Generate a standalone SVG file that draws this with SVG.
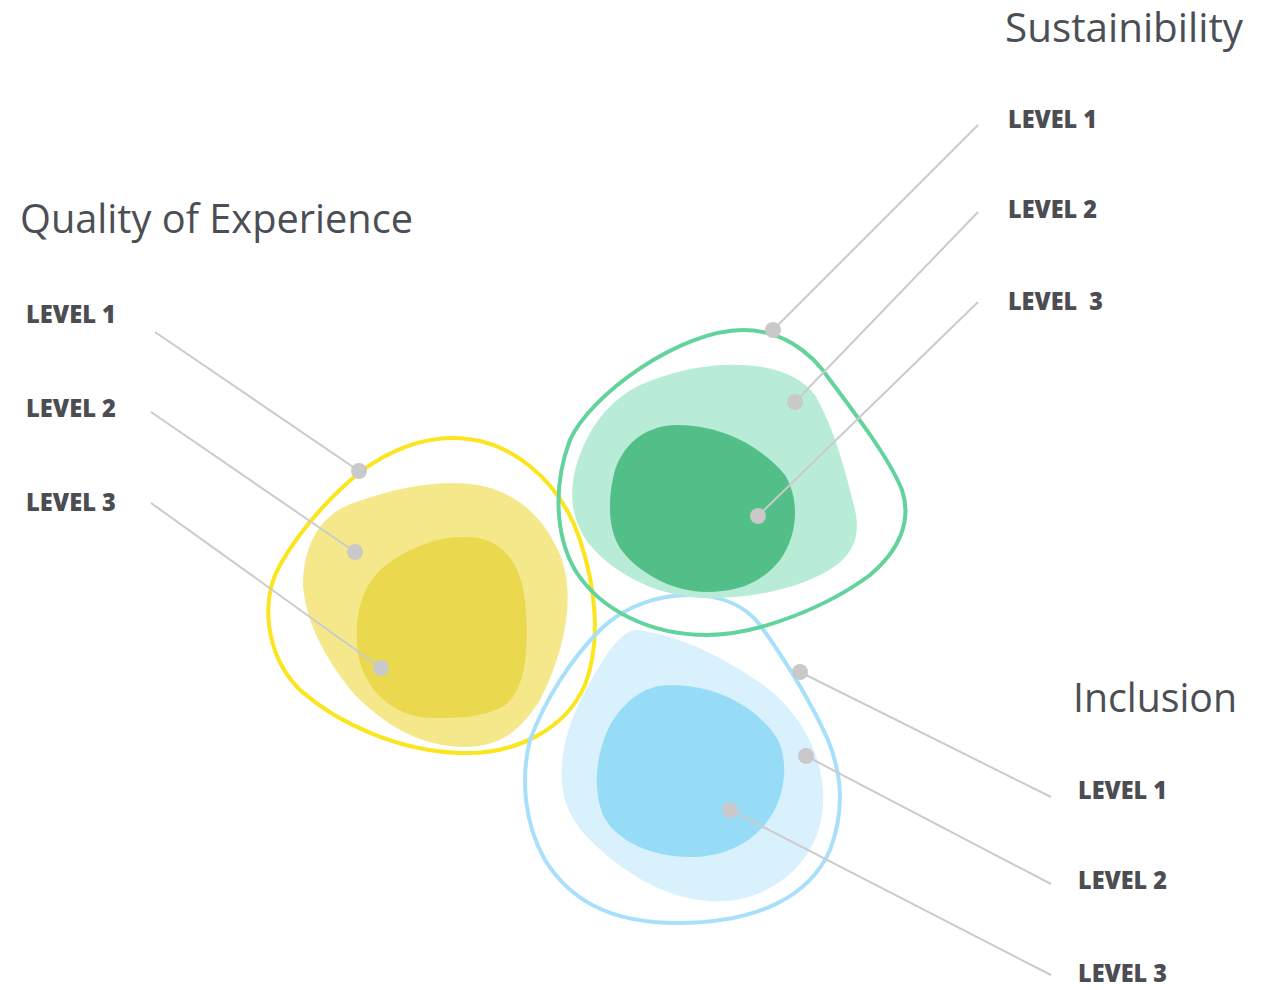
<svg xmlns="http://www.w3.org/2000/svg" width="1269" height="990" viewBox="0 0 1269 990">
<style>
.title{font-family:"Open Sans","Noto Sans",sans-serif;font-size:41px;fill:#4b4f55;}
.lvl{font-family:"Open Sans","Noto Sans",sans-serif;font-size:24px;font-weight:800;fill:#4b4d52;}
.conn line{stroke:#cbcbcb;stroke-width:2;}
.conn circle{fill:#c9c9c9;}
</style>
<rect width="1269" height="990" fill="#ffffff"/>
<g id="quality">
<path d="M 353,503 C 390,490 420,483 455,483 C 510,483 545,515 562,560 C 575,600 565,650 540,700 C 515,740 490,747 465,747 C 420,747 385,725 355,695 C 325,660 305,620 303,585 C 303,545 320,515 353,503 Z" fill="#f4e88a"/>
<path d="M 463,537 C 500,535 520,560 525,600 C 530,650 525,690 505,705 C 485,718 455,718 433,718 C 395,718 360,690 357,645 C 354,600 370,575 393,560 C 415,545 440,537 463,537 Z" fill="#ead94f"/>
<path d="M 453,438 C 510,438 560,480 580,540 C 595,585 602,640 585,685 C 565,730 515,755 460,753 C 400,751 340,725 300,690 C 265,655 260,600 280,565 C 300,530 330,497 360,472 C 390,450 420,438 453,438 Z" fill="none" stroke="#fbe51c" stroke-width="4"/>
<text class="title" x="20" y="233" textLength="393" lengthAdjust="spacingAndGlyphs">Quality of Experience</text>
<text class="lvl" x="26" y="323" textLength="90" lengthAdjust="spacingAndGlyphs">LEVEL 1</text>
<text class="lvl" x="26" y="417" textLength="90" lengthAdjust="spacingAndGlyphs">LEVEL 2</text>
<text class="lvl" x="26" y="511" textLength="90" lengthAdjust="spacingAndGlyphs">LEVEL 3</text>
</g>
<g id="inclusion">
<path d="M 637,630 C 680,635 730,660 770,690 C 800,715 820,750 823,790 C 826,840 800,875 760,893 C 735,903 717,902 700,900 C 660,895 620,870 590,840 C 565,815 560,790 562,765 C 565,720 590,680 610,650 C 620,637 628,630 637,630 Z" fill="#d9f0fd"/>
<path d="M 670,685 C 720,685 760,710 778,740 C 790,765 785,805 760,830 C 740,850 715,857 690,857 C 650,857 615,840 603,815 C 593,790 595,755 610,725 C 625,700 645,685 670,685 Z" fill="#97dcf6"/>
<path d="M 690,595 C 720,595 745,605 760,625 C 785,660 810,700 828,740 C 842,775 845,810 830,850 C 810,895 760,923 677,923 C 610,923 570,900 545,860 C 525,825 520,780 530,740 C 545,700 570,660 600,630 C 625,605 660,595 690,595 Z" fill="none" stroke="#a8e0fb" stroke-width="4"/>
<text class="title" x="1073" y="712" textLength="164" lengthAdjust="spacingAndGlyphs">Inclusion</text>
<text class="lvl" x="1078" y="799" textLength="89" lengthAdjust="spacingAndGlyphs">LEVEL 1</text>
<text class="lvl" x="1078" y="889" textLength="89" lengthAdjust="spacingAndGlyphs">LEVEL 2</text>
<text class="lvl" x="1078" y="982" textLength="89" lengthAdjust="spacingAndGlyphs">LEVEL 3</text>
</g>
<g id="sustainibility">
<path d="M 723,365 C 770,363 800,375 815,395 C 835,430 845,470 855,510 C 862,540 850,560 820,575 C 790,590 750,598 710,598 C 660,598 615,575 590,545 C 570,520 568,490 578,460 C 590,425 610,400 640,385 C 670,372 700,366 723,365 Z" fill="#b8ecd7"/>
<path d="M 677,425 C 720,425 760,445 785,475 C 800,500 798,535 780,560 C 760,585 735,592 707,592 C 670,592 635,570 620,548 C 607,528 608,495 615,470 C 625,440 650,425 677,425 Z" fill="#52be88"/>
<path d="M 743,330 C 780,330 810,350 830,380 C 860,420 890,460 902,490 C 912,520 900,550 870,575 C 830,605 760,635 707,635 C 650,635 600,610 575,570 C 555,535 553,485 570,440 C 590,395 680,330 743,330 Z" fill="none" stroke="#63d39e" stroke-width="4"/>
<text class="title" x="1005" y="42" textLength="238" lengthAdjust="spacingAndGlyphs">Sustainibility</text>
<text class="lvl" x="1008" y="128" textLength="89" lengthAdjust="spacingAndGlyphs">LEVEL 1</text>
<text class="lvl" x="1008" y="218" textLength="89" lengthAdjust="spacingAndGlyphs">LEVEL 2</text>
<text class="lvl" x="1008" y="310" textLength="95" lengthAdjust="spacingAndGlyphs" xml:space="preserve">LEVEL  3</text>
</g>
<g id="connectors" class="conn">
<line x1="155" y1="332" x2="359" y2="471"/><circle cx="359" cy="471" r="8"/>
<line x1="151" y1="412" x2="355" y2="552"/><circle cx="355" cy="552" r="8"/>
<line x1="151" y1="503" x2="381" y2="668"/><circle cx="381" cy="668" r="8"/>
<line x1="978" y1="125" x2="773" y2="330"/><circle cx="773" cy="330" r="8"/>
<line x1="978" y1="212" x2="795" y2="402"/><circle cx="795" cy="402" r="8"/>
<line x1="978" y1="302" x2="758" y2="516"/><circle cx="758" cy="516" r="8"/>
<line x1="1051" y1="797" x2="800" y2="672"/><circle cx="800" cy="672" r="8"/>
<line x1="1051" y1="884" x2="806" y2="756"/><circle cx="806" cy="756" r="8"/>
<line x1="1051" y1="975" x2="730" y2="810"/><circle cx="730" cy="810" r="8"/>
</g>
</svg>
